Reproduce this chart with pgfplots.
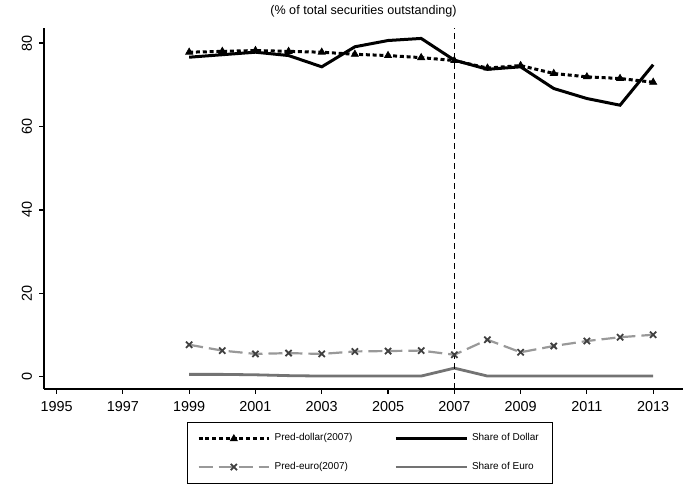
\documentclass[border=0pt]{standalone}
\usepackage{fontspec}
\setmainfont{Liberation Sans}
\usepackage{pgfplots}
\pgfplotsset{compat=1.18}
\usepackage{pgfplotstable}

\pgfplotstableread{
year dollar preddollar euro predeuro
1999 76.6 77.8 0.6 7.7
2000 77.2 78.0 0.6 6.3
2001 77.8 78.2 0.5 5.5
2002 77.0 78.0 0.3 5.7
2003 74.3 77.8 0.2 5.5
2004 79.1 77.3 0.2 6.1
2005 80.6 77.0 0.2 6.2
2006 81.1 76.5 0.2 6.3
2007 75.9 75.8 2.1 5.3
2008 73.7 74.0 0.2 8.9
2009 74.3 74.6 0.2 5.9
2010 69.1 72.7 0.2 7.4
2011 66.7 71.9 0.2 8.6
2012 65.1 71.5 0.2 9.5
2013 74.8 70.6 0.2 10.1
}\shares

\begin{document}
\begin{tikzpicture}
\begin{axis}[
  scale only axis,
  width=319.5pt, height=180.5pt,
  xmin=1994.62, xmax=2013.9,
  ymin=-2.9, ymax=83.6,
  axis x line*=bottom, axis y line*=left,
  axis line style={-, line width=0.7pt},
  xtick={1995,1997,...,2013},
  ytick={0,20,40,60,80},
  tick align=outside,
  major tick length=2.5pt,
  tick style={line width=0.6pt, black},
  /pgf/number format/1000 sep={},
  /pgf/number format/assume math mode=true,
  tick label style={font=\fontsize{7.2}{8}\selectfont},
  yticklabel style={rotate=90, anchor=south},
  title={(\% of total securities outstanding)},
  title style={font=\fontsize{6.3}{7}\selectfont, at={(0.5,1)}, anchor=south, yshift=-4pt},
  legend columns=2,
  legend style={at={(0.51,-0.092)}, anchor=north, draw=black, line width=0.5pt,
    font=\fontsize{5}{6}\selectfont, cells={anchor=west},
    /tikz/every even column/.append style={column sep=19pt},
    inner xsep=5pt, inner ysep=3.5pt, row sep=5pt},
  legend image code/.code={\draw[mark repeat=2,mark phase=2] plot coordinates {(0cm,0cm) (0.62cm,0cm) (1.24cm,0cm)};},
]
  \addplot[black, line width=1.5pt, dash pattern=on 2pt off 1.4pt,
    mark=triangle*, mark size=2pt, mark options={solid, line width=0.4pt}]
    table[x=year, y=preddollar] {\shares};
  \addlegendentry{Pred-dollar(2007)}
  \addplot[black, line width=1.5pt] table[x=year, y=dollar] {\shares};
  \addlegendentry{Share of Dollar}
  \addplot[black!40, line width=1.1pt, dash pattern=on 7pt off 3pt,
    mark=x, mark size=2.2pt, mark options={solid, black!75, line width=0.9pt}]
    table[x=year, y=predeuro] {\shares};
  \addlegendentry{Pred-euro(2007)}
  \addplot[black!55, line width=1.4pt] table[x=year, y=euro] {\shares};
  \addlegendentry{Share of Euro}
  \addplot[black, line width=0.6pt, dash pattern=on 3pt off 2pt, forget plot]
    coordinates {(2007,-2.9) (2007,83.6)};
\end{axis}
\pgfresetboundingbox
\path[use as bounding box] ([xshift=-22pt,yshift=-47.5pt]current axis.south west)
  rectangle ([yshift=14pt]current axis.north east);
\end{tikzpicture}
\end{document}
